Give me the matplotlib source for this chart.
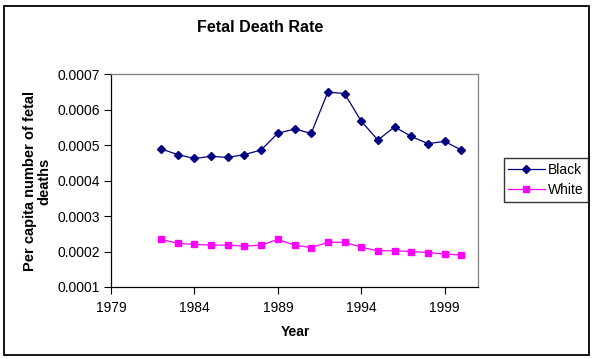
import matplotlib
matplotlib.use("Agg")
import matplotlib.pyplot as plt
from matplotlib.patches import Rectangle

years = list(range(1982, 2001))
black = [0.000489, 0.000473, 0.000462, 0.000468, 0.000465, 0.000473, 0.000486,
         0.000533, 0.000545, 0.000533, 0.000649, 0.000645, 0.000567, 0.000514,
         0.000551, 0.000524, 0.000504, 0.000510, 0.000486]
white = [0.000234, 0.000223, 0.000220, 0.000218, 0.000218, 0.000215, 0.000218,
         0.000234, 0.000218, 0.000211, 0.000226, 0.000226, 0.000212, 0.000202,
         0.000202, 0.000200, 0.000197, 0.000193, 0.000190]
xticks = [1979, 1984, 1989, 1994, 1999]
yticks = [0.0001, 0.0002, 0.0003, 0.0004, 0.0005, 0.0006, 0.0007]

plt.rcParams['font.family'] = ['Liberation Sans', 'DejaVu Sans']

W, H = 595, 359
fig = plt.figure(figsize=(W / 100, H / 100), dpi=100)
fig.patches.append(Rectangle((4 / W, 1 - 355 / H), 585 / W, 349 / H,
                             transform=fig.transFigure, fill=False,
                             edgecolor='black', linewidth=1.3))

l, r, t, b = 111, 478, 74, 287
ax = fig.add_axes([l / W, 1 - b / H, (r - l) / W, (b - t) / H])
ax.plot(years, black, color='#000080', marker='D', markersize=4.5, linewidth=0.9,
        label='Black')
ax.plot(years, white, color='#FF00FF', marker='s', markersize=4.5, linewidth=0.9,
        label='White')
ax.set_xlim(1979, 2001)
ax.set_ylim(0.0001, 0.0007)
ax.set_xticks(xticks)
ax.set_yticks(yticks)
ax.set_yticklabels([f"{v:.4f}" for v in yticks])
ax.tick_params(axis='both', labelsize=10, direction='out', length=5, width=0.8,
               colors='black')
ax.tick_params(axis='x', pad=5)
ax.tick_params(axis='y', pad=3)
for s in ['top', 'right']:
    ax.spines[s].set_color('#808080')
for s in ['left', 'bottom']:
    ax.spines[s].set_color('black')
for s in ax.spines.values():
    s.set_linewidth(0.9)

fig.text(295 / W, 1 - 332 / H, 'Year', ha='center', va='center',
         fontsize=10, fontweight='bold')
fig.text(37 / W, 1 - 181 / H, 'Per capita number of fetal\ndeaths', rotation=90,
         ha='center', va='center', fontsize=10.5, fontweight='bold',
         multialignment='center', linespacing=1.05)
fig.text(260 / W, 1 - 28 / H, 'Fetal Death Rate', ha='center', va='center',
         fontsize=11.5, fontweight='bold')

leg = fig.legend(loc='center', bbox_to_anchor=(546 / W, 1 - 180 / H),
                 frameon=True, fancybox=False, fontsize=10, handlelength=2.6,
                 borderpad=0.35, labelspacing=0.45, handletextpad=0.25,
                 borderaxespad=0)
leg.get_frame().set_edgecolor('black')
leg.get_frame().set_linewidth(1.0)

fig.savefig('out.png', dpi=100)
